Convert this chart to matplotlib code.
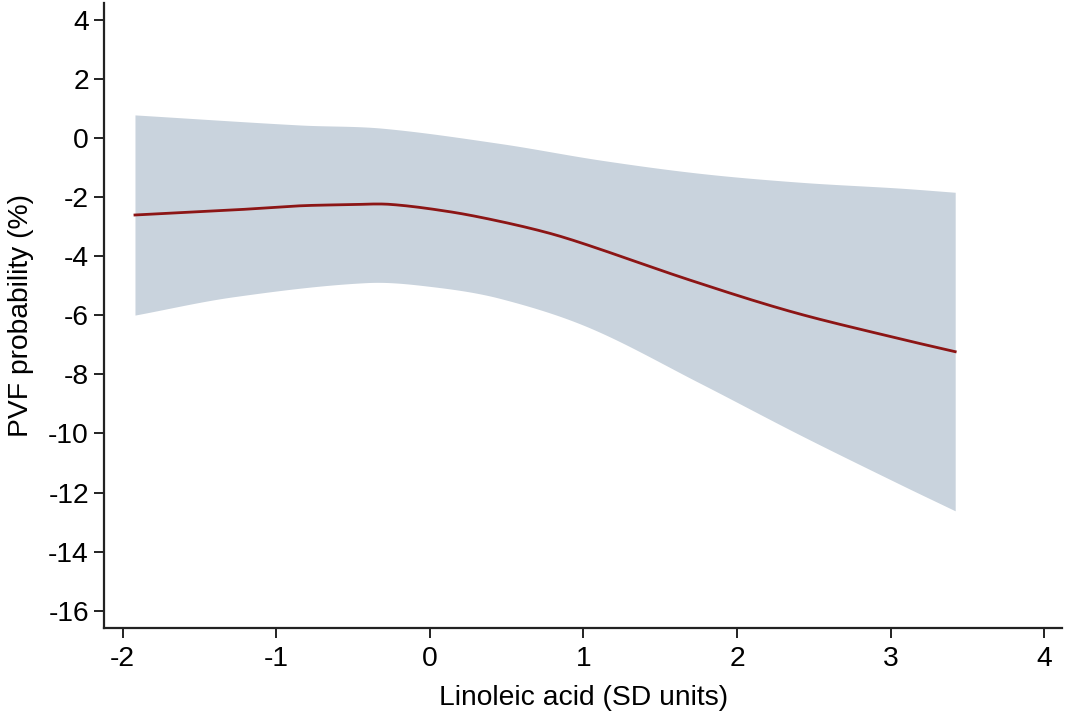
import matplotlib
matplotlib.use("Agg")
import matplotlib.pyplot as plt
import numpy as np

plt.rcParams['font.family'] = ['Liberation Sans', 'DejaVu Sans']

# Linoleic acid (SD units)
x_fit = [-1.92, -1.28, -0.85, -0.52, -0.26, 0.13, 0.46, 0.78, 1.04, 1.69, 2.35, 3.00, 3.42]
y_fit = [-2.60, -2.43, -2.29, -2.25, -2.24, -2.49, -2.82, -3.22, -3.64, -4.80, -5.87, -6.72, -7.23]

x_upper = [-1.92, -0.85, -0.31, 0.46, 1.11, 1.76, 2.41, 3.06, 3.42]
y_upper = [0.79, 0.45, 0.34, -0.18, -0.74, -1.19, -1.49, -1.69, -1.83]

x_lower = [-1.92, -1.28, -0.41, 0.02, 0.46, 1.04, 1.76, 2.41, 3.06, 3.42]
y_lower = [-5.99, -5.37, -4.89, -5.03, -5.43, -6.42, -8.30, -10.05, -11.72, -12.62]

x_ticks = [-2, -1, 0, 1, 2, 3, 4]
y_ticks = [4, 2, 0, -2, -4, -6, -8, -10, -12, -14, -16]


def smooth(xp, yp, xs):
    """Cubic Hermite curve through the read points."""
    xp = np.asarray(xp, float)
    yp = np.asarray(yp, float)
    n = len(xp)
    m = np.zeros(n)
    for i in range(n):
        if i == 0:
            m[i] = (yp[1] - yp[0]) / (xp[1] - xp[0])
        elif i == n - 1:
            m[i] = (yp[-1] - yp[-2]) / (xp[-1] - xp[-2])
        else:
            m[i] = (yp[i + 1] - yp[i - 1]) / (xp[i + 1] - xp[i - 1])
    out = np.empty_like(xs)
    for k, x in enumerate(xs):
        i = min(max(np.searchsorted(xp, x) - 1, 0), n - 2)
        h = xp[i + 1] - xp[i]
        t = (x - xp[i]) / h
        h00 = 2 * t**3 - 3 * t**2 + 1
        h10 = t**3 - 2 * t**2 + t
        h01 = -2 * t**3 + 3 * t**2
        h11 = t**3 - t**2
        out[k] = h00 * yp[i] + h10 * h * m[i] + h01 * yp[i + 1] + h11 * h * m[i + 1]
    return out


fig = plt.figure(figsize=(10.66, 7.18), dpi=100)
ax = fig.add_axes([0.0978, 0.1249, 0.8984, 0.8709])

xs = np.linspace(min(x_fit), max(x_fit), 400)
up = smooth(x_upper, y_upper, xs)
lo = smooth(x_lower, y_lower, xs)
fit = smooth(x_fit, y_fit, xs)
ax.fill_between(xs, lo, up, color='#c9d3dd', linewidth=0)
ax.plot(xs, fit, color='#8c1515', linewidth=2.0)

ax.set_xlim(-2.12, 4.115)
ax.set_ylim(-16.6, 4.58)
ax.set_xticks(x_ticks)
ax.set_yticks(y_ticks)
ax.set_xticklabels([str(v) for v in x_ticks])
ax.set_yticklabels([str(v) for v in y_ticks])
for s in ['top', 'right']:
    ax.spines[s].set_visible(False)
for s in ['left', 'bottom']:
    ax.spines[s].set_linewidth(1.6)
    ax.spines[s].set_color('#222222')
ax.tick_params(axis='both', direction='out', length=7, width=1.4, color='#222222',
               labelsize=20.3)
ax.tick_params(axis='x', pad=6)
ax.tick_params(axis='y', pad=4)
ax.set_xlabel('Linoleic acid (SD units)', fontsize=20.3, labelpad=9)
ax.set_ylabel('PVF probability (%)', fontsize=20.3, labelpad=10)

fig.savefig('out.png', dpi=100)
